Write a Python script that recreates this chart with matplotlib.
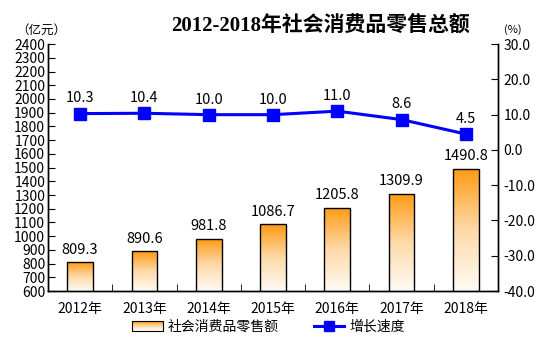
import numpy as np
import matplotlib.pyplot as plt
from matplotlib.colors import LinearSegmentedColormap
from matplotlib.legend_handler import HandlerBase
from matplotlib.patches import Rectangle
from matplotlib.lines import Line2D

plt.rcParams['font.family'] = ['Noto Sans CJK SC', 'DejaVu Sans']

years = ["2012年", "2013年", "2014年", "2015年", "2016年", "2017年", "2018年"]
sales = [809.3, 890.6, 981.8, 1086.7, 1205.8, 1309.9, 1490.8]
growth = [10.3, 10.4, 10.0, 10.0, 11.0, 8.6, 4.5]

ORANGE_TOP = "#FF9A12"
ORANGE_BOT = "#FFFBF5"
cmap = LinearSegmentedColormap.from_list("bar_grad", [ORANGE_BOT, "#FDD9A8", ORANGE_TOP])
BLUE = "#0000FF"
YMIN, YMAX = 600, 2400


class GradientPatchHandler(HandlerBase):
    """Legend key drawn as a vertical orange-to-white gradient box."""
    def create_artists(self, legend, orig_handle, xdescent, ydescent,
                       width, height, fontsize, trans):
        artists = []
        n = 12
        for i in range(n):
            c = cmap(1 - i / (n - 1))
            artists.append(Rectangle((-xdescent, -ydescent + height * (1 - (i + 1) / n)),
                                     width, height / n, facecolor=c,
                                     edgecolor="none", transform=trans))
        artists.append(Rectangle((-xdescent, -ydescent), width, height,
                                 facecolor="none", edgecolor="black",
                                 linewidth=0.8, transform=trans))
        return artists


fig = plt.figure(figsize=(5.54, 3.42), dpi=100)
ax = fig.add_axes([0.0866, 0.149, 0.8124, 0.722])
ax2 = ax.twinx()

x = np.arange(len(years))
bars = ax.bar(x, sales, width=0.4, color="none", edgecolor="black", linewidth=1.0, zorder=3)
grad = np.linspace(0, 1, 256).reshape(-1, 1)
for b, v in zip(bars, sales):
    x0 = b.get_x()
    im = ax.imshow(grad, cmap=cmap, origin="lower", aspect="auto",
                   extent=[x0, x0 + b.get_width(), YMIN, v], zorder=2)
    im.set_clip_path(b)
    ax.text(b.get_x() + b.get_width() / 2, v + 40, f"{v:.1f}",
            ha="center", va="bottom", fontsize=10.5)

ax.set_xlim(-0.5, len(years) - 0.5)
ax.set_ylim(YMIN, YMAX)
ax.set_yticks(np.arange(YMIN, YMAX + 1, 100))
ax.set_xticks(x)
ax.set_xticklabels(years, fontsize=10)
ax.set_xticks(np.arange(0.5, len(years) - 0.5, 1), minor=True)
ax.tick_params(axis="x", which="major", length=0, pad=8)
ax.tick_params(axis="x", which="minor", direction="in", length=5)
ax.tick_params(axis="y", direction="in", length=5, labelsize=10, pad=2)

ax2.plot(x, growth, color=BLUE, linewidth=2.2, marker="s", markersize=8,
         markerfacecolor=BLUE, markeredgecolor=BLUE, zorder=5)
for xi, g in zip(x, growth):
    ax2.text(xi, g + 2.3, f"{g:.1f}", ha="center", va="bottom", fontsize=10.5)
ax2.set_ylim(-40, 30)
ax2.set_yticks(np.arange(-40, 31, 10))
ax2.set_yticklabels([f"{t:.1f}" for t in np.arange(-40, 31, 10)])
ax2.tick_params(axis="y", direction="in", length=5, labelsize=10, pad=4)

for a in (ax, ax2):
    a.spines["top"].set_visible(False)
    for s in a.spines.values():
        s.set_linewidth(1.0)

fig.text(0.578, 0.925, "2012-2018年社会消费品零售总额", ha="center", va="center",
         fontsize=15, fontweight="bold",
         family=["Liberation Serif", "Noto Sans CJK SC"])
fig.text(0.075, 0.91, "（亿元）", ha="center", va="center", fontsize=9)
fig.text(0.925, 0.915, "(%)", ha="center", va="center", fontsize=8)

handles = [Rectangle((0, 0), 1, 1),
           Line2D([], [], color=BLUE, linewidth=2.2, marker="s", markersize=7)]
fig.legend(handles, ["社会消费品零售额", "增长速度"], loc="center",
           bbox_to_anchor=(0.485, 0.045), ncol=2, frameon=False, fontsize=10,
           handler_map={Rectangle: GradientPatchHandler()},
           handlelength=2.2, handleheight=0.7, columnspacing=2.5, handletextpad=0.4)

fig.savefig("out.png", dpi=100)
